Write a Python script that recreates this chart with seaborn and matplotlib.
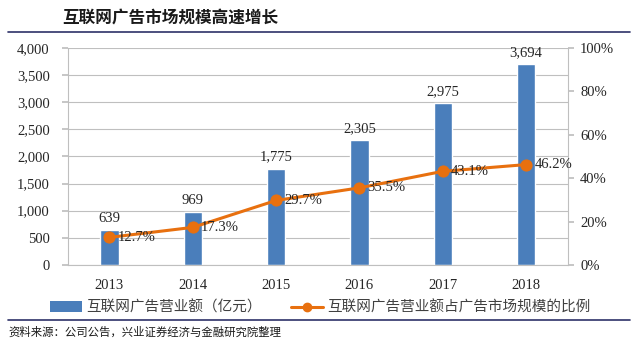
import numpy as np
import pandas as pd
import matplotlib
matplotlib.use("Agg")
import matplotlib.pyplot as plt
import seaborn as sns
from matplotlib.patches import Patch
from matplotlib.lines import Line2D

years = ["2013", "2014", "2015", "2016", "2017", "2018"]
revenue = [639, 969, 1775, 2305, 2975, 3694]
share = [12.7, 17.3, 29.7, 35.5, 43.1, 46.2]
left_ticks = [0, 500, 1000, 1500, 2000, 2500, 3000, 3500, 4000]
right_ticks = [0, 20, 40, 60, 80, 100]

title = "互联网广告市场规模高速增长"
legend_bar = "互联网广告营业额（亿元）"
legend_line = "互联网广告营业额占广告市场规模的比例"
source = "资料来源：公司公告，兴业证券经济与金融研究院整理"

sns.set_theme(style="white")
plt.rcParams['font.family'] = ['Liberation Serif', 'Noto Sans CJK SC', 'DejaVu Sans']
cjk = ['Noto Sans CJK SC', 'DejaVu Sans']

BLUE = "#4A7EBB"
ORANGE = "#E8700F"
GRID = "#BFBFBF"
TXT = "#262626"

fig = plt.figure(figsize=(6.4, 3.41), dpi=100)
ax = fig.add_axes([0.106, 0.223, 0.781, 0.637])

df = pd.DataFrame({"year": years, "revenue": revenue, "share": share})
sns.barplot(data=df, x="year", y="revenue", color=BLUE, width=0.22, ax=ax,
            saturation=1, zorder=2)
ax.set_ylim(0, 4000)
ax.set_xlim(-0.5, 5.5)
ax.set_yticks(left_ticks)
ax.set_yticklabels([f"{v:,}" for v in left_ticks], fontsize=10.5, color=TXT)
ax.set_xlabel("")
ax.set_ylabel("")
ax.tick_params(axis="x", length=0, labelsize=10.5, labelcolor=TXT, pad=10)
ax.set_xticks(np.arange(-0.5, 6, 1), minor=True)
ax.tick_params(axis="x", which="minor", length=4, color=GRID, direction="out")
ax.tick_params(axis="y", length=4, color=GRID, direction="out", pad=9)
ax.yaxis.grid(True, color=GRID, linewidth=0.8, zorder=0)
ax.set_axisbelow(True)
for s in ["top", "right"]:
    ax.spines[s].set_visible(False)
for s in ["left", "bottom"]:
    ax.spines[s].set_color(GRID)
    ax.spines[s].set_linewidth(0.8)

for i, v in enumerate(revenue):
    ax.text(i, v + 90, f"{v:,}", ha="center", va="bottom", fontsize=10.5, color=TXT)

ax2 = ax.twinx()
sns.lineplot(x=np.arange(len(years)), y=share, ax=ax2, color=ORANGE, linewidth=2.2,
             marker="o", markersize=8, markeredgecolor=ORANGE, zorder=3)
ax2.set_ylim(0, 100)
ax2.set_yticks(right_ticks)
ax2.set_yticklabels([f"{v}%" for v in right_ticks], fontsize=10.5, color=TXT)
ax2.tick_params(axis="y", length=4, color=GRID, direction="out", pad=5)
for s in ["top", "left", "bottom"]:
    ax2.spines[s].set_visible(False)
ax2.spines["right"].set_color(GRID)
ax2.spines["right"].set_linewidth(0.8)
ax2.set_ylabel("")
for i, v in enumerate(share):
    ax2.text(i + 0.1, v, f"{v}%", ha="left", va="center", fontsize=10.5, color=TXT)

fig.text(0.097, 0.945, title, fontsize=12, fontweight="bold", family=cjk,
         color="#1a1a1a", va="center", ha="left")
fig.add_artist(Line2D([0.012, 0.985], [0.905, 0.905], color="#2E3168", linewidth=1.2,
                      transform=fig.transFigure))
fig.add_artist(Line2D([0.012, 0.985], [0.062, 0.062], color="#2E3168", linewidth=1.2,
                      transform=fig.transFigure))

handles = [Patch(facecolor=BLUE, edgecolor="none"),
           Line2D([0], [0], color=ORANGE, linewidth=2.2, marker="o", markersize=6)]
leg = fig.legend(handles, [legend_bar, legend_line], loc="center",
                 bbox_to_anchor=(0.5, 0.098), ncol=2, frameon=False,
                 prop={"family": cjk, "size": 10.5}, handlelength=2.2,
                 handletextpad=0.3, columnspacing=2.0)
for t in leg.get_texts():
    t.set_color("#404040")

fig.text(0.014, 0.025, source, fontsize=8.2, family=cjk, color="#1a1a1a",
         va="center", ha="left")

fig.savefig("out.png", dpi=100)
